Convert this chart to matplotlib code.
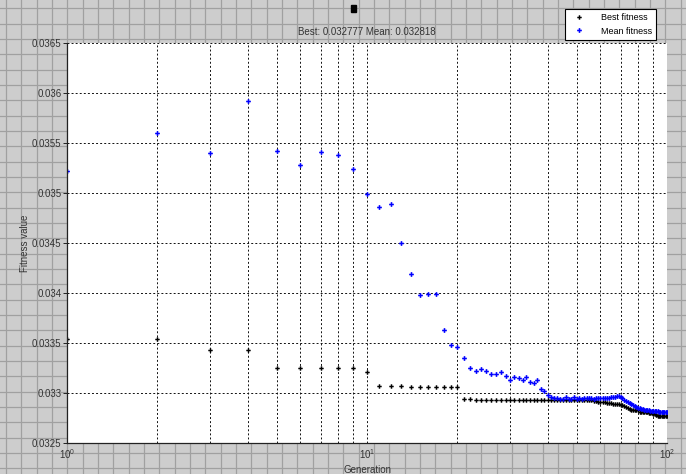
import matplotlib
matplotlib.use('Agg')
from matplotlib import pyplot as plt
from matplotlib import ticker
from matplotlib.patches import Rectangle

# generation index
generation = list(range(1, 101))

# best fitness per generation
best_fitness = [
    0.03354, 0.03354, 0.03343, 0.03343, 0.03325, 0.03325, 0.03325, 0.03325, 0.03325, 0.03321,
    0.03307, 0.03307, 0.03307, 0.03306, 0.03306, 0.03306, 0.03306, 0.03306, 0.03306, 0.03306,
    0.03294, 0.03294, 0.03293, 0.03293, 0.03293, 0.03293, 0.03293, 0.03293, 0.03293, 0.03293,
    0.03293, 0.03293, 0.03293, 0.03293, 0.03293, 0.03293, 0.03293, 0.03293, 0.03293, 0.03293,
    0.03293, 0.03293, 0.03293, 0.03293, 0.03293, 0.03293, 0.03293, 0.03293, 0.03293, 0.03293,
    0.03293, 0.03293, 0.03293, 0.03293, 0.03293, 0.03293, 0.032925, 0.03292, 0.032915, 0.03291,
    0.03291, 0.03291, 0.0329, 0.0329, 0.0329, 0.032895, 0.032895, 0.032895, 0.03289, 0.032885,
    0.03288, 0.03287, 0.03286, 0.03285, 0.03284, 0.032835, 0.03283, 0.03283, 0.03283, 0.03283,
    0.032818, 0.032818, 0.032818, 0.03281, 0.03281, 0.03281, 0.0328, 0.0328, 0.0328, 0.03279,
    0.03279, 0.03278, 0.032777, 0.032777, 0.032777, 0.032777, 0.032777, 0.032777, 0.032777, 0.032777,
]

# mean fitness per generation
mean_fitness = [
    0.035223, 0.0356, 0.0354, 0.03592, 0.035423, 0.035286, 0.03541, 0.03538, 0.03524, 0.034993,
    0.03486, 0.034893, 0.0345, 0.034196, 0.03398, 0.033996, 0.03399, 0.033633, 0.033486, 0.033466,
    0.033356, 0.033256, 0.033226, 0.03324, 0.033223, 0.033189, 0.033196, 0.033218, 0.033173, 0.033133,
    0.033165, 0.033156, 0.033131, 0.033165, 0.033118, 0.033101, 0.033133, 0.033046, 0.033023, 0.032988,
    0.032961, 0.03295, 0.03295, 0.032946, 0.032946, 0.032966, 0.032946, 0.032948, 0.032966, 0.032942,
    0.03295, 0.032948, 0.03295, 0.032949, 0.032951, 0.03295, 0.032948, 0.03295, 0.032949, 0.03295,
    0.032951, 0.032952, 0.032955, 0.032957, 0.03296, 0.032963, 0.032966, 0.03297, 0.032972, 0.032966,
    0.03295, 0.03293, 0.03292, 0.03291, 0.0329, 0.03289, 0.03288, 0.03287, 0.03286, 0.032855,
    0.03285, 0.032845, 0.03284, 0.032838, 0.032835, 0.032832, 0.03283, 0.032826, 0.032824, 0.032822,
    0.032821, 0.03282, 0.032819, 0.032817, 0.032817, 0.032815, 0.032818, 0.032812, 0.032814, 0.032818,
]

y_ticks = [0.0325, 0.033, 0.0335, 0.034, 0.0345, 0.035, 0.0355, 0.036, 0.0365]
y_tick_labels = ['0.0325', '0.033', '0.0335', '0.034', '0.0345', '0.035', '0.0355', '0.036', '0.0365']
title_text = 'Best: 0.032777 Mean: 0.032818'

plt.rcParams['font.family'] = ['Liberation Sans', 'DejaVu Sans']
text_col = '#333333'
W, H = 686, 474

fig = plt.figure(figsize=(W / 100, H / 100), dpi=100)
fig.patch.set_facecolor('#cdcdcd')

# layout grid behind everything, in pixel units
bg = fig.add_axes([0, 0, 1, 1], zorder=-5)
bg.set_xlim(0, W)
bg.set_ylim(H, 0)
bg.set_facecolor('#cdcdcd')
bg.axis('off')
step = 15.33
x = 6.1
while x < W:
    bg.axvline(x, color='#a0a0a0', lw=0.9)
    x += step
y = 8.4
while y < H:
    bg.axhline(y, color='#a0a0a0', lw=0.9)
    y += step
bg.add_patch(Rectangle((351, 5), 5, 7, color='black', zorder=5))

ax = fig.add_axes([67 / W, (H - 443.3) / H, 600 / W, 400 / H])
ax.set_facecolor('white')

ax.plot(generation, best_fitness, linestyle='none', marker='P', markersize=3.2,
        markeredgewidth=0, color='black', label='Best fitness')
ax.plot(generation, mean_fitness, linestyle='none', marker='P', markersize=3.4,
        markeredgewidth=0, color='#0000ff', label='Mean fitness')

ax.set_xscale('log')
ax.set_xlim(1, 100)
ax.set_ylim(0.0325, 0.0365)
ax.xaxis.set_major_locator(ticker.FixedLocator([1, 10, 100]))
ax.xaxis.set_major_formatter(ticker.FixedFormatter(
    [r'$\mathregular{10^{0}}$', r'$\mathregular{10^{1}}$', r'$\mathregular{10^{2}}$']))
ax.xaxis.set_minor_locator(ticker.LogLocator(base=10, subs=range(2, 10)))
ax.xaxis.set_minor_formatter(ticker.NullFormatter())
ax.set_yticks(y_ticks)
ax.set_yticklabels(y_tick_labels)

grid_style = dict(color='#111111', linestyle=(0, (2, 2.2)), linewidth=0.7)
ax.grid(True, which='major', axis='both', **grid_style)
ax.grid(True, which='minor', axis='x', **grid_style)

for side in ['top', 'right']:
    ax.spines[side].set_visible(False)
for side in ['left', 'bottom']:
    ax.spines[side].set_color('#222222')
    ax.spines[side].set_linewidth(0.9)

ax.tick_params(axis='y', direction='out', length=3, width=0.7, pad=1,
               labelsize=7, labelcolor=text_col, color='#222222')
ax.tick_params(axis='x', which='both', length=0, pad=3, labelsize=7, labelcolor=text_col)

ax.set_title(title_text, fontsize=7, color=text_col, pad=6)
ax.set_xlabel('Generation', fontsize=7, color=text_col)
ax.xaxis.set_label_coords(0.5, -0.055)
ax.set_ylabel('Fitness value', fontsize=7, color=text_col)
ax.yaxis.set_label_coords(-0.062, 0.5)

leg = ax.legend(loc='upper right', bbox_to_anchor=(656 / W, (H - 9) / H),
                bbox_transform=fig.transFigure, borderaxespad=0, fontsize=6.5,
                fancybox=False, framealpha=1, edgecolor='black',
                handlelength=2.2, handletextpad=1.3, borderpad=0.45, labelspacing=0.5)
leg.get_frame().set_linewidth(0.8)

fig.savefig('out.png', dpi=100)
